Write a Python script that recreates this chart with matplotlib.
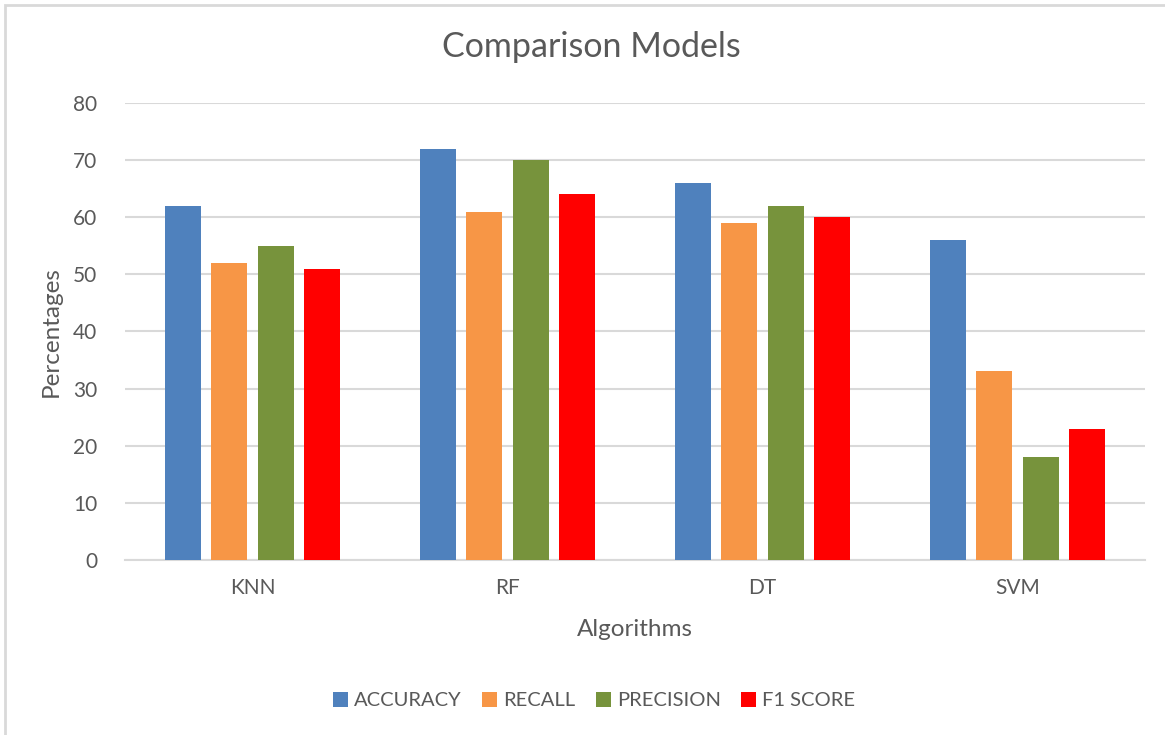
import numpy as np
import matplotlib.pyplot as plt
from matplotlib.patches import Rectangle

# Datos del grafico
algoritmos = ['KNN', 'RF', 'DT', 'SVM']
accuracy = [62, 72, 66, 56]
recall = [52, 61, 59, 33]
precision = [55, 70, 62, 18]
f1_score = [51, 64, 60, 23]

series = [('ACCURACY', accuracy, '#4F81BD'),
          ('RECALL', recall, '#F79646'),
          ('PRECISION', precision, '#77933C'),
          ('F1 SCORE', f1_score, '#FF0000')]

plt.rcParams['font.family'] = ['Lato', 'DejaVu Sans']
gris = '#595959'

fig = plt.figure(figsize=(11.65, 7.35), dpi=100)
ax = fig.add_axes([0.1073, 0.2381, 0.8755, 0.6218])

# Marco del grafico
fig.patches.append(Rectangle((5 / 1165, -0.1), 1.2, 1 - 5 / 735 + 0.1,
                             transform=fig.transFigure, fill=False,
                             edgecolor='#D9D9D9', linewidth=2))

x = np.arange(len(algoritmos))
ancho = 0.141
paso = 0.182
for i, (nombre, valores, color) in enumerate(series):
    ax.bar(x + (i - 1.5) * paso, valores, ancho, color=color, label=nombre, zorder=3)

ax.set_xlim(-0.5, 3.5)
ax.set_ylim(0, 80)
ax.set_yticks(range(0, 81, 10))
ax.set_xticks(x)
ax.set_xticklabels(algoritmos)
ax.grid(axis='y', color='#D9D9D9', linewidth=1.5, zorder=0)
for lado in ['top', 'right', 'left']:
    ax.spines[lado].set_visible(False)
ax.spines['bottom'].set_color('#D9D9D9')
ax.spines['bottom'].set_linewidth(1.5)
ax.tick_params(axis='both', length=0, labelsize=15, colors=gris)
ax.tick_params(axis='x', pad=13)
ax.tick_params(axis='y', pad=20)

fig.text(0.508, 0.936, 'Comparison Models', ha='center', va='center', fontsize=24.5, color=gris)
ax.set_ylabel('Percentages', fontsize=17.5, color=gris, labelpad=8)
fig.text(0.545, 0.143, 'Algorithms', ha='center', va='center', fontsize=17.5, color=gris)

fig.legend(loc='center', bbox_to_anchor=(0.51, 0.047), ncol=4, frameon=False,
           fontsize=14.5, labelcolor=gris, handlelength=0.75, handleheight=0.75,
           columnspacing=1.0, handletextpad=0.3)

plt.savefig('out.png', dpi=100)
